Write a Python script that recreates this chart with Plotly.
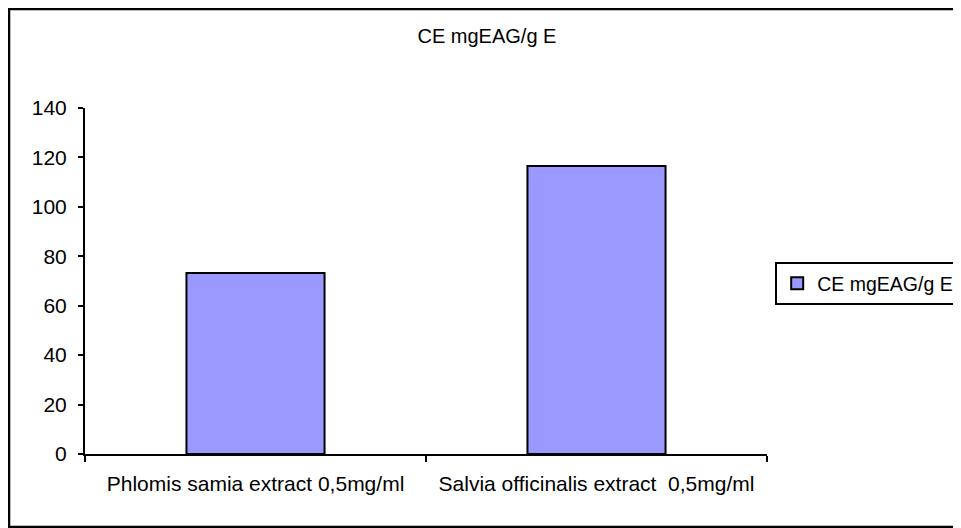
import plotly.graph_objs as go

categories = ['Phlomis samia extract 0,5mg/ml',
              'Salvia officinalis extract\u00a0\u00a00,5mg/ml']
values = [73.2, 116.5]
series_name = 'CE mgEAG/g E'
y_ticks = [0, 20, 40, 60, 80, 100, 120, 140]

# the page adds an 8px body margin, so the figure is drawn 8px smaller
fig = go.Figure(
    go.Bar(x=categories,
           y=values,
           name=series_name,
           marker=dict(color='#9999FF', line=dict(color='black', width=2)),
           showlegend=True))

fig.update_layout(title=dict(text=series_name,
                             x=0.5026,
                             xanchor='center',
                             xref='container',
                             y=1 - 28 / 520,
                             yref='container',
                             yanchor='middle',
                             font=dict(size=20, color='black')),
                  font=dict(family='Liberation Sans, Arial', color='black'),
                  width=953,
                  height=520,
                  margin=dict(l=77, r=194, t=100, b=74, autoexpand=False),
                  paper_bgcolor='white',
                  plot_bgcolor='white',
                  bargap=0.595,
                  legend=dict(x=1.012,
                              y=0.555,
                              xanchor='left',
                              yanchor='top',
                              bordercolor='black',
                              borderwidth=2,
                              itemwidth=30,
                              font=dict(size=19.5, color='black')),
                  shapes=[dict(type='rect', xref='paper', yref='paper',
                               x0=-0.1114, x1=1.35, y0=-0.211, y1=1.2861,
                               line=dict(color='black', width=2.5))])

fig.update_xaxes(showline=True,
                 linecolor='black',
                 linewidth=2,
                 ticks='outside',
                 tickson='boundaries',
                 ticklen=6,
                 tickwidth=2,
                 tickcolor='black',
                 tickfont=dict(size=21),
                 ticklabelstandoff=10,
                 showgrid=False)
fig.update_yaxes(range=[0, 140],
                 tickvals=y_ticks,
                 showline=True,
                 linecolor='black',
                 linewidth=2,
                 ticks='outside',
                 ticklen=5,
                 tickwidth=2,
                 tickcolor='black',
                 tickfont=dict(size=21),
                 ticklabelstandoff=7,
                 showgrid=False,
                 zeroline=False)

fig.write_html("out.html")
